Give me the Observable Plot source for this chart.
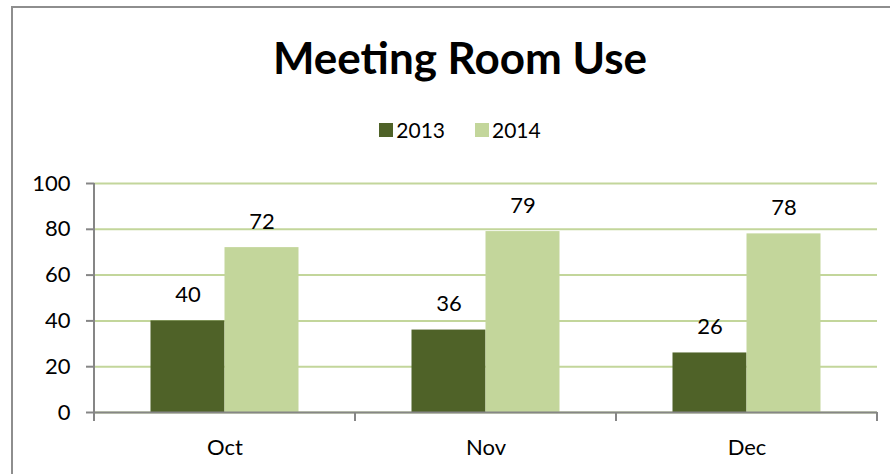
<!DOCTYPE html>
<html>
<head>
<meta charset="utf-8">
<script src="https://cdn.jsdelivr.net/npm/d3@7"></script>
<script src="https://cdn.jsdelivr.net/npm/@observablehq/plot@0.6"></script>
<style>
  html, body { margin: 0; padding: 0; background: #fff; }
  #wrap { position: relative; width: 890px; height: 474px; overflow: hidden; background: #fff; font-family: Lato, "Open Sans", sans-serif; color: #000; }
  #border { position: absolute; left: 11px; top: 6px; width: 1000px; height: 1000px; border: 2px solid #8e8e8e; box-sizing: border-box; }
  #title { position: absolute; left: 12px; width: 896px; top: 35px; text-align: center; font-size: 44px; font-weight: bold; line-height: 1; }
  #legend { position: absolute; left: 12px; width: 896px; top: 119px; display: flex; justify-content: center; align-items: center; font-size: 21px; line-height: 1; }
  .item { display: flex; align-items: center; margin: 0 15px; }
  .sw { width: 14px; height: 14px; margin-right: 3px; }
  #plot { position: absolute; left: 0; top: 150px; }
</style>
</head>
<body>
<div id="wrap">
  <div id="border"></div>
  <div id="title">Meeting Room Use</div>
  <div id="legend"></div>
  <div id="plot"></div>
</div>
<script>
const title = "Meeting Room Use";
const months = ["Oct", "Nov", "Dec"];
const years = ["2013", "2014"];
const values2013 = [40, 36, 26];
const values2014 = [72, 79, 78];
const yTicks = [0, 20, 40, 60, 80, 100];
const colors = ["#4F6228", "#C3D69B"];

const seriesValues = [values2013, values2014];
const data = months.flatMap((m, i) => years.map((yr, j) => ({month: m, year: yr, value: seriesValues[j][i]})));

document.getElementById("title").textContent = title;
const legend = document.getElementById("legend");
years.forEach((yr, j) => {
  const item = document.createElement("div");
  item.className = "item";
  const sw = document.createElement("div");
  sw.className = "sw";
  sw.style.background = colors[j];
  const t = document.createElement("span");
  t.textContent = yr;
  item.appendChild(sw);
  item.appendChild(t);
  legend.appendChild(item);
});

const axisGray = "#868686";
const chart = Plot.plot({
  width: 890,
  height: 324,
  marginTop: 33,
  marginBottom: 62,
  marginLeft: 94,
  marginRight: 13,
  style: {fontFamily: "Lato, 'Open Sans', sans-serif", fontSize: "22px", color: "#000", background: "transparent", overflow: "visible"},
  fx: {domain: months, padding: 0, label: null, round: false},
  x: {domain: years, paddingInner: 0, paddingOuter: 0.7635, round: false, axis: null},
  y: {domain: [0, 100], label: null},
  color: {domain: years, range: colors},
  marks: [
    Plot.gridY(yTicks, {stroke: "#C3D69B", strokeOpacity: 1, strokeWidth: 2}),
    Plot.barY(data, {fx: "month", x: "year", y: "value", fill: "year"}),
    Plot.text(data, {fx: "month", x: "year", y: "value", text: d => String(d.value), dy: -26, fill: "#000", fontSize: 22}),
    Plot.ruleY([0], {stroke: axisGray, strokeWidth: 2}),
    Plot.axisY(yTicks, {tickSize: 8, tickPadding: 16, stroke: axisGray, strokeWidth: 2, strokeOpacity: 1, fill: "#000", fontSize: 22, label: null}),
    Plot.axisFx({anchor: "bottom", tickSize: 0, tickPadding: 27, fill: "#000", fontSize: 22, label: null})
  ]
});
document.getElementById("plot").appendChild(chart);

// y axis line and category boundary ticks, placed from the library's scales
const fx = chart.scale("fx");
const y = chart.scale("y");
const svg = d3.select(chart.tagName.toLowerCase() === "svg" ? chart : chart.querySelector("svg"));
const y0 = y.apply(0), y100 = y.apply(100);
const x0 = fx.apply(months[0]);
svg.append("line").attr("x1", x0).attr("x2", x0).attr("y1", y100).attr("y2", y0 + 1)
  .attr("stroke", axisGray).attr("stroke-width", 2);
const bounds = months.map(m => fx.apply(m)).concat([fx.apply(months[months.length - 1]) + fx.bandwidth]);
bounds.forEach(bx => {
  svg.append("line").attr("x1", bx).attr("x2", bx).attr("y1", y0).attr("y2", y0 + 9)
    .attr("stroke", axisGray).attr("stroke-width", 2);
});
</script>
</body>
</html>
